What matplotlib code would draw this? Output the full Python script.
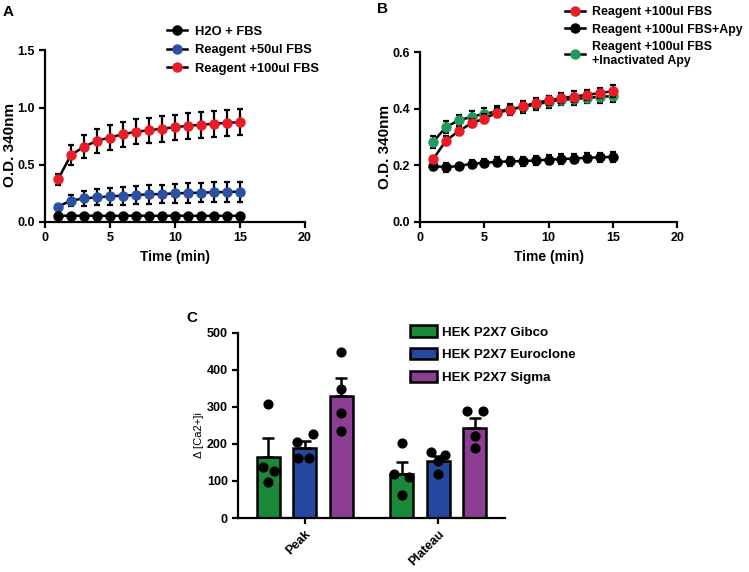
import numpy as np
import matplotlib
matplotlib.use("Agg")
import matplotlib.pyplot as plt
from matplotlib.lines import Line2D
from matplotlib.patches import Patch

plt.rcParams['font.family'] = ['Liberation Sans', 'DejaVu Sans']
plt.rcParams['font.weight'] = 'bold'
plt.rcParams['axes.labelweight'] = 'bold'
plt.rcParams['axes.linewidth'] = 1.6
plt.rcParams['xtick.major.width'] = 1.6
plt.rcParams['ytick.major.width'] = 1.6
plt.rcParams['xtick.major.size'] = 4
plt.rcParams['ytick.major.size'] = 4
plt.rcParams['xtick.labelsize'] = 9
plt.rcParams['ytick.labelsize'] = 9

# ---- panel A data ----
time_min = np.arange(1, 16)
a_labels = ['H2O + FBS', 'Reagent +50ul FBS', 'Reagent +100ul FBS']
a_h2o = [0.055, 0.054, 0.055, 0.054, 0.053, 0.054, 0.055, 0.054, 0.053, 0.055,
         0.054, 0.053, 0.054, 0.053, 0.054]
a_h2o_err = [0.01] * 15
a_fbs50 = [0.134, 0.186, 0.206, 0.215, 0.224, 0.230, 0.235, 0.241, 0.244, 0.250,
           0.253, 0.256, 0.259, 0.262, 0.265]
a_fbs50_err = [0.012, 0.05, 0.065, 0.07, 0.075, 0.078, 0.08, 0.08, 0.082, 0.083,
               0.084, 0.085, 0.086, 0.086, 0.087]
a_fbs100 = [0.372, 0.584, 0.657, 0.709, 0.738, 0.767, 0.788, 0.802, 0.814, 0.828,
            0.840, 0.849, 0.858, 0.866, 0.872]
a_fbs100_err = [0.045, 0.09, 0.10, 0.105, 0.11, 0.11, 0.11, 0.11, 0.113, 0.11,
                0.113, 0.113, 0.113, 0.114, 0.116]

# ---- panel B data ----
b_labels = ['Reagent +100ul FBS', 'Reagent +100ul FBS+Apy',
            'Reagent +100ul FBS\n+Inactivated Apy']
b_fbs = [0.221, 0.287, 0.321, 0.349, 0.365, 0.386, 0.396, 0.408, 0.421, 0.429,
         0.438, 0.443, 0.449, 0.455, 0.462]
b_fbs_err = [0.012, 0.015, 0.015, 0.015, 0.015, 0.015, 0.016, 0.016, 0.017, 0.017,
             0.017, 0.018, 0.018, 0.018, 0.02]
b_apy = [0.198, 0.193, 0.198, 0.205, 0.209, 0.212, 0.214, 0.215, 0.217, 0.220,
         0.222, 0.224, 0.227, 0.228, 0.230]
b_apy_err = [0.014, 0.015, 0.008, 0.015, 0.015, 0.016, 0.016, 0.016, 0.016, 0.016,
             0.017, 0.017, 0.017, 0.017, 0.017]
b_inact = [0.282, 0.335, 0.359, 0.371, 0.382, 0.390, 0.398, 0.406, 0.415, 0.424,
           0.432, 0.433, 0.439, 0.441, 0.445]
b_inact_err = [0.022, 0.022, 0.02, 0.02, 0.02, 0.02, 0.02, 0.02, 0.02, 0.02,
               0.02, 0.02, 0.02, 0.02, 0.02]

# ---- panel C data ----
c_groups = ['Peak', 'Plateau']
c_labels = ['HEK P2X7 Gibco', 'HEK P2X7 Euroclone', 'HEK P2X7 Sigma']
c_means = [[165, 120], [188, 155], [329, 244]]
c_sem = [[50, 30], [19, 13], [49, 25]]
c_points = [[[307, 137, 126, 96], [204, 118, 110, 62]],
            [[206, 226, 162, 162], [178, 170, 155, 120]],
            [[449, 348, 284, 234], [289, 289, 221, 189]]]
# horizontal jitter of the dots (layout only)
c_jitter = [[[0, -0.04, 0.04, 0], [0, -0.06, 0.055, 0]],
            [[-0.06, 0.06, -0.05, 0.03], [-0.05, 0.05, 0, 0]],
            [[0, 0, 0, 0], [-0.06, 0.06, 0, 0]]]

red = '#ea1c26'
blue = '#2a51a2'
green = '#1f9a5c'
c_colors = ['#1a8a3a', '#2548a0', '#8c3d94']

fig = plt.figure(figsize=(7.49, 5.72), dpi=100)


def style_axes(ax):
    ax.spines['top'].set_visible(False)
    ax.spines['right'].set_visible(False)
    ax.tick_params(direction='out')


def draw_series(ax, y, err, color, z):
    ax.errorbar(time_min, y, yerr=err, fmt='none', ecolor='k', elinewidth=1.6,
                capsize=2.5, capthick=1.6, zorder=z)
    ax.plot(time_min, y, '-o', color='k', lw=1.8, mfc=color, mec=color, ms=6.5,
            zorder=z + 0.5)


def line_handle(color):
    return Line2D([0], [0], color='k', lw=1.8, marker='o', mfc=color, mec=color, ms=6.5)


# panel A
axA = fig.add_axes([0.060, 0.612, 0.347, 0.300])
style_axes(axA)
draw_series(axA, a_fbs100, a_fbs100_err, red, 3)
draw_series(axA, a_fbs50, a_fbs50_err, blue, 4)
draw_series(axA, a_h2o, a_h2o_err, 'k', 5)
axA.set_xlim(0, 20)
axA.set_ylim(0, 1.5)
axA.set_xticks([0, 5, 10, 15, 20])
axA.set_yticks([0.0, 0.5, 1.0, 1.5])
axA.set_yticklabels(['0.0', '0.5', '1.0', '1.5'])
axA.set_xlabel('Time (min)', fontsize=10)
axA.set_ylabel('O.D. 340nm', fontsize=11)
axA.yaxis.set_label_coords(-0.108, 0.45)
axA.legend([line_handle('k'), line_handle(blue), line_handle(red)], a_labels,
           loc='upper left', bbox_to_anchor=(0.214, 0.966), bbox_transform=fig.transFigure,
           frameon=False, fontsize=9.3, handlelength=1.6, labelspacing=0.5,
           handletextpad=0.55, borderpad=0)
fig.text(0.004, 0.992, 'A', fontsize=11, fontweight='bold', va='top')

# panel B
axB = fig.add_axes([0.561, 0.612, 0.343, 0.297])
style_axes(axB)
draw_series(axB, b_apy, b_apy_err, 'k', 3)
draw_series(axB, b_inact, b_inact_err, green, 4)
draw_series(axB, b_fbs, b_fbs_err, red, 5)
axB.set_xlim(0, 20)
axB.set_ylim(0, 0.6)
axB.set_xticks([0, 5, 10, 15, 20])
axB.set_yticks([0.0, 0.2, 0.4, 0.6])
axB.set_yticklabels(['0.0', '0.2', '0.4', '0.6'])
axB.set_xlabel('Time (min)', fontsize=10)
axB.set_ylabel('O.D. 340nm', fontsize=11)
axB.yaxis.set_label_coords(-0.11, 0.44)
axB.legend([line_handle(red), line_handle('k'), line_handle(green)], b_labels,
           loc='upper left', bbox_to_anchor=(0.746, 1.0), bbox_transform=fig.transFigure,
           frameon=False, fontsize=8.9, handlelength=1.6, labelspacing=0.45,
           handletextpad=0.55, borderpad=0)
fig.text(0.503, 0.997, 'B', fontsize=11, fontweight='bold', va='top')

# panel C
axC = fig.add_axes([0.318, 0.0944, 0.356, 0.3235])
style_axes(axC)
xg = np.arange(len(c_groups))
offsets = [-0.274, 0, 0.274]
for i in range(3):
    xs = xg + offsets[i]
    axC.bar(xs, c_means[i], width=0.173, color=c_colors[i], edgecolor='k',
            linewidth=1.8, zorder=2)
    axC.errorbar(xs, c_means[i], yerr=[np.zeros(2), c_sem[i]], fmt='none',
                 ecolor='k', elinewidth=1.8, capsize=4.5, capthick=1.8, zorder=3)
    for g in range(2):
        axC.scatter(xs[g] + np.array(c_jitter[i][g]), c_points[i][g], s=40,
                    color='k', zorder=4)
axC.set_xlim(-0.5, 1.5)
axC.set_ylim(0, 500)
axC.set_yticks([0, 100, 200, 300, 400, 500])
axC.set_xticks(xg)
axC.set_xticklabels(c_groups, rotation=45, ha='right', rotation_mode='anchor',
                    fontsize=9)
axC.set_ylabel('\u0394 [Ca2+]i', fontsize=8, fontweight='normal')
axC.yaxis.set_label_coords(-0.13, 0.45)
axC.legend([Patch(facecolor=c, edgecolor='k', linewidth=1.8) for c in c_colors],
           c_labels, loc='upper left', bbox_to_anchor=(0.539, 0.443),
           bbox_transform=fig.transFigure, frameon=False, fontsize=9.6,
           handlelength=2.0, handleheight=0.95, labelspacing=0.7,
           handletextpad=0.4, borderpad=0)
fig.text(0.249, 0.456, 'C', fontsize=11, fontweight='bold', va='top')

fig.savefig('out.png', dpi=100)
